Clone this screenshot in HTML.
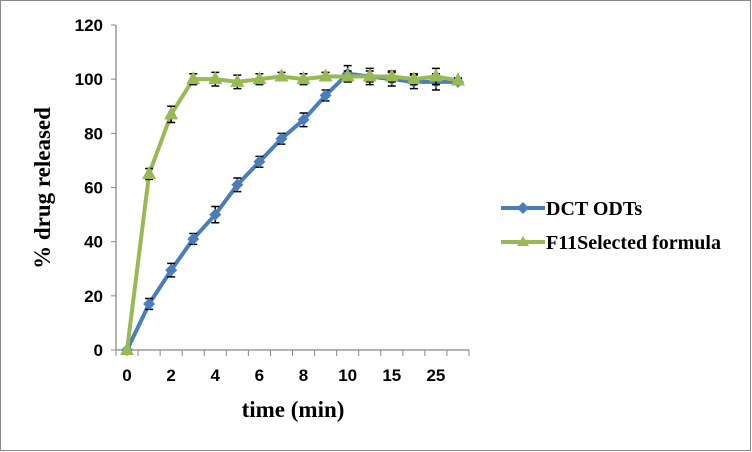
<!DOCTYPE html>
<html><head><meta charset="utf-8"><style>
body{margin:0;background:#fff}
svg{display:block;font-family:"Liberation Serif",serif;font-weight:bold}
</style></head><body>
<svg id="c" width="752" height="452" xmlns="http://www.w3.org/2000/svg">
<rect x="0.5" y="0.5" width="750" height="450" fill="#fff" stroke="#888"/>
<g id="axes"></g><g id="series"></g>
<text x="293" y="417" font-size="23" text-anchor="middle">time (min)</text>
<text transform="translate(50,188) rotate(-90)" font-size="23" text-anchor="middle">% drug released</text>
<g>
<g>
<line x1="501" y1="208" x2="545" y2="208" stroke="#4a7ebb" stroke-width="4"/>
<path d="M523 202 L529 208 L523 214 L517 208Z" fill="#4a7ebb"/>
<text x="546" y="215" font-size="20">DCT ODTs</text></g>
<g>
<line x1="501" y1="242" x2="545" y2="242" stroke="#98b954" stroke-width="4"/>
<path d="M523 236 L529 246 L517 246Z" fill="#98b954"/>
<text x="546" y="249" font-size="20">F11Selected formula</text></g>
</g>
</svg>
<script>
const categories=["0","1","2","3","4","5","6","7","8","9","10","12","15","20","25","30"];
const tickLabels=["0","","2","","4","","6","","8","","10","","15","","25",""];
const dctValues=[0,17,29.5,41,50,61,69.5,78,85,94,102,101,100,99,99,99];
const dctErr=[0,2,2.5,2,3,2.5,2,2,2.5,2,3,3,2.5,2.5,3,1];
const f11Values=[0,65,87,100,100,99,100,101,100,101,101,101,101,100,101,99.5];
const f11Err=[0,2,3,2,2.5,2.5,2,1.5,2,1.5,2,2,2,2,3,1];
const yTicks=[0,20,40,60,80,100,120];
const NS="http://www.w3.org/2000/svg";
const x0=116,x1=469,yTop=25,yBot=350;
const step=(x1-x0)/categories.length;
const X=i=>x0+step*(i+0.5);
const Y=v=>yBot-(v/120)*(yBot-yTop);
function mk(t,a,p){const e=document.createElementNS(NS,t);for(const k in a)e.setAttribute(k,a[k]);p.appendChild(e);return e;}
const ax=document.getElementById('axes'),sr=document.getElementById('series');
let e=mk('line',{x1:x0,y1:yTop,x2:x0,y2:yBot,stroke:'#888','stroke-width':1.3},ax);


e=mk('line',{x1:x0,y1:yBot,x2:x1,y2:yBot,stroke:'#888','stroke-width':1.3},ax);


yTicks.forEach(v=>{mk('line',{x1:x0-5,y1:Y(v),x2:x0,y2:Y(v),stroke:'#888'},ax);
const t=mk('text',{x:x0-13,y:Y(v)+6,'font-size':17,'text-anchor':'end',fill:'#000','font-family':'Liberation Sans, sans-serif'},ax);t.textContent=v;

});
for(let i=0;i<=categories.length;i++)mk('line',{x1:x0+step*i,y1:yBot,x2:x0+step*i,y2:yBot+6,stroke:'#888'},ax);
tickLabels.forEach((l,i)=>{if(!l)return;const t=mk('text',{x:X(i),y:yBot+31,'font-size':17,'text-anchor':'middle','font-family':'Liberation Sans, sans-serif'},ax);t.textContent=l;

});
function draw(vals,err,col,name,marker){
const g=mk('g',{},sr);


const pts=vals.map((v,i)=>X(i)+','+Y(v)).join(' ');
mk('polyline',{points:pts,fill:'none',stroke:col,'stroke-width':4,'stroke-linejoin':'round'},g);
vals.forEach((v,i)=>{if(err[i]){const a=Y(v+err[i]),b=Y(v-err[i]);
mk('path',{d:`M${X(i)} ${a}V${b}M${X(i)-4} ${a}h8M${X(i)-4} ${b}h8`,stroke:'#000','stroke-width':1.5,fill:'none'},g);}
const x=X(i),y=Y(v);let m;
if(marker==='d')m=mk('path',{d:`M${x} ${y-6}L${x+6} ${y}L${x} ${y+6}L${x-6} ${y}Z`,fill:col},g);
else m=mk('path',{d:`M${x} ${y-8}L${x+7} ${y+5}L${x-7} ${y+5}Z`,fill:col},g);

});
}
draw(dctValues,dctErr,'#4a7ebb','dct-series','d');
draw(f11Values,f11Err,'#98b954','f11-series','t');
</script>
</body></html>
